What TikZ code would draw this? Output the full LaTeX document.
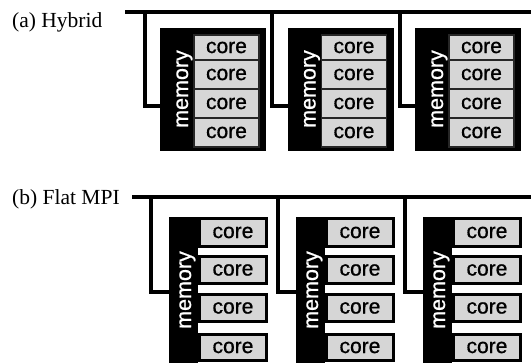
\documentclass[tikz,border=0pt]{standalone}
\usepackage{fontspec}
\setmainfont{Liberation Serif}
\newfontfamily\sansf[FakeBold=0.8]{Liberation Sans}
\definecolor{coregray}{gray}{0.84}
\begin{document}
\begin{tikzpicture}[x=1pt,y=-1pt,
  bus/.style={line width=4pt, line join=miter},
  lbl/.style={font=\fontsize{21.5}{24}\selectfont, inner sep=0pt, anchor=base west},
  membox/.style={fill=black, draw=none, inner sep=0pt, outer sep=0pt, anchor=north west},
  memtext/.style={font=\sansf\fontsize{21.5}{23}\selectfont, text=white, rotate=90, anchor=base, inner sep=0pt},
  corea/.style={fill=coregray, draw=black!85, line width=1.2pt, inner sep=0pt, outer sep=0pt, anchor=north west},
  coreb/.style={fill=coregray, draw=black, line width=2.8pt, inner sep=0pt, outer sep=0pt, anchor=north west},
  coretext/.style={font=\sansf\fontsize{21}{23}\selectfont, inner sep=0pt}
]
\useasboundingbox (0,0) rectangle (531,363);

% ---------- (a) Hybrid ----------
\node[lbl] (la) at (12,28) {(a) Hybrid};
\coordinate (busAs) at (125,12);
\coordinate (busAe) at (531,12);
\draw[bus] (busAs) -- (busAe);
\foreach \i in {0,1,2} {
  \pgfmathsetmacro\dx{127.5*\i}
  \node[membox, minimum width=106pt, minimum height=123pt] (ma\i) at (160+\dx,28) {};
  \coordinate (da\i) at (144.5+\dx,12);
  \coordinate (ea\i) at (160+\dx,106);
  \draw[bus] (da\i) |- (ea\i);
  \node[memtext] (mta\i) at (188+\dx,89) {memory};
  \node[corea, minimum width=65pt, minimum height=25pt] (ca\i a) at (194+\dx,35) {};
  \node[corea, minimum width=65pt, minimum height=29pt] (ca\i b) at (194+\dx,60) {};
  \node[corea, minimum width=65pt, minimum height=29pt] (ca\i c) at (194+\dx,89) {};
  \node[corea, minimum width=65pt, minimum height=29pt] (ca\i d) at (194+\dx,118) {};
  \foreach \r in {a,b,c,d} {
    \node[coretext] at (ca\i\r.center) {core};
  }
}

% ---------- (b) Flat MPI ----------
\node[lbl] (lb) at (12,205) {(b) Flat MPI};
\coordinate (busBs) at (132,197.5);
\coordinate (busBe) at (531,197.5);
\draw[bus] (busBs) -- (busBe);
\foreach \i in {0,1,2} {
  \pgfmathsetmacro\dx{127*\i}
  \node[membox, minimum width=29pt, minimum height=146pt] (mb\i) at (169+\dx,217) {};
  \coordinate (db\i) at (150.5+\dx,197.5);
  \coordinate (eb\i) at (169+\dx,292.5);
  \draw[bus] (db\i) |- (eb\i);
  \node[memtext] (mtb\i) at (191+\dx,290) {memory};
  \node[coreb, minimum width=67.2pt, minimum height=28.2pt] (cb\i a) at (199.4+\dx,218.4) {};
  \node[coreb, minimum width=67.2pt, minimum height=27.2pt] (cb\i b) at (199.4+\dx,256.4) {};
  \node[coreb, minimum width=67.2pt, minimum height=27.2pt] (cb\i c) at (199.4+\dx,294.4) {};
  \node[coreb, minimum width=67.2pt, minimum height=26.2pt] (cb\i d) at (199.4+\dx,334.4) {};
  \foreach \r in {a,b,c,d} {
    \node[coretext] at (cb\i\r.center) {core};
  }
}
\end{tikzpicture}
\end{document}
